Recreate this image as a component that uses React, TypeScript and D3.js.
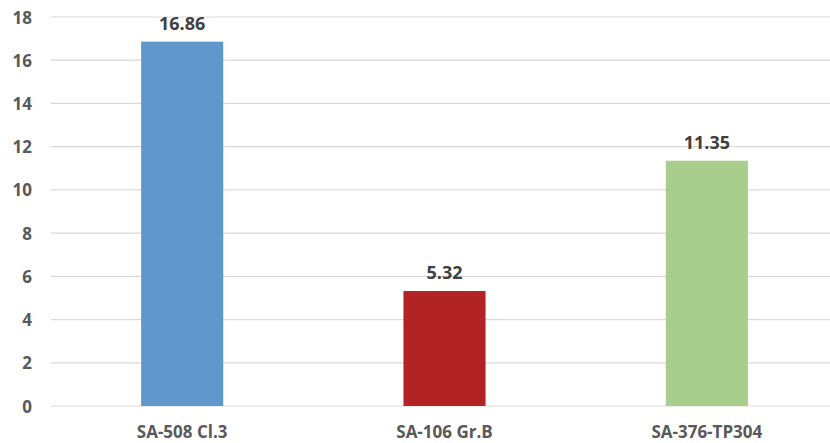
import React from "react";
import * as d3 from "d3";

const categories = ["SA-508 Cl.3", "SA-106 Gr.B", "SA-376-TP304"];
const values = [16.86, 5.32, 11.35];
const barColors = ["#6198CB", "#B22325", "#A9CD8D"];
const yTicks = [0, 2, 4, 6, 8, 10, 12, 14, 16, 18];

const W = 830;
const H = 443;
const margin = { top: 17, right: -8, bottom: 37, left: 51 };
const FONT = "'Open Sans', 'DejaVu Sans', sans-serif";
const TEXT = "#595959";

export default function App() {
  const x = d3
    .scaleBand<string>()
    .domain(categories)
    .range([margin.left, W - margin.right])
    .paddingInner(0.687)
    .paddingOuter(0.3435);
  const y = d3
    .scaleLinear()
    .domain([0, 18])
    .range([H - margin.bottom, margin.top]);

  return (
    <svg
      width={W}
      height={H}
      style={{ position: "absolute", left: 0, top: 0, background: "#fff" }}
    >
      {yTicks.map((t) => (
        <g key={t}>
          <line
            x1={margin.left}
            x2={W}
            y1={y(t)}
            y2={y(t)}
            stroke="#D9D9D9"
            strokeWidth={1.2}
          />
          <text
            x={32}
            y={y(t)}
            textAnchor="end"
            dominantBaseline="central"
            fontFamily={FONT}
            fontWeight={700}
            fontSize={17}
            fill={TEXT}
          >
            {t}
          </text>
        </g>
      ))}
      {categories.map((c, i) => (
        <g key={c}>
          <rect
            x={x(c)}
            y={y(values[i])}
            width={x.bandwidth()}
            height={y(0) - y(values[i])}
            fill={barColors[i]}
          />
          <text
            x={(x(c) as number) + x.bandwidth() / 2}
            y={y(values[i]) - 19}
            textAnchor="middle"
            dominantBaseline="central"
            fontFamily={FONT}
            fontWeight={700}
            fontSize={18}
            fill="#404040"
          >
            {values[i].toFixed(2)}
          </text>
          <text
            x={(x(c) as number) + x.bandwidth() / 2}
            y={438}
            textAnchor="middle"
            fontFamily={FONT}
            fontWeight={700}
            fontSize={17}
            fill={TEXT}
          >
            {c}
          </text>
        </g>
      ))}
    </svg>
  );
}
